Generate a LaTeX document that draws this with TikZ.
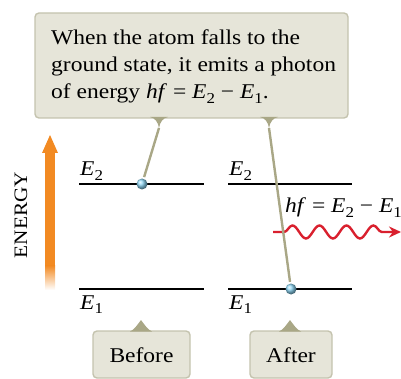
\documentclass[tikz,border=0pt]{standalone}
\usepackage{fontspec}
\setmainfont[FakeStretch=1.12]{Liberation Serif}
\usetikzlibrary{arrows.meta,decorations.pathmorphing,shadings}
\definecolor{boxfill}{HTML}{E6E5D9}
\definecolor{boxedge}{HTML}{C4C3AE}
\definecolor{olive}{HTML}{A9A786}
\definecolor{energyc}{HTML}{F28A22}
\definecolor{photonc}{HTML}{D9202E}
\definecolor{ballc}{HTML}{8ED6F4}
\newcommand\sbs[1]{\raisebox{-0.22em}{\scalebox{0.72}{#1}}}
\begin{document}
\begin{tikzpicture}[x=1pt,y=-1pt,
  txt/.style={inner sep=0pt,font=\fontsize{21}{27}\selectfont},
  callout/.style={fill=boxfill,draw=boxedge,line width=1.4pt,rounded corners=4pt},
  pointer/.style={fill=olive},
  lead/.style={draw=olive,line width=2.4pt,shorten >=1.5pt},
  level/.style={line width=1.3pt},
  atom/.style={circle,inner sep=0pt,minimum size=11pt,shading=ball,ball color=ballc}]
\useasboundingbox (0,0) rectangle (401,379);

% top callout
\draw[callout] (35,13) rectangle (348,118);
\node[txt,anchor=base west] (l1) at (51,45) {When the atom falls to the};
\node[txt,anchor=base west] (l2) at (51,72) {ground state, it emits a photon};
\node[txt,anchor=base west] (l3) at (51,99) {of energy \textit{hf} = \textit{E}\sbs{2} − \textit{E}\sbs{1}.};
\coordinate (t1) at (159,128);
\coordinate (t2) at (269,128);
\fill[pointer] (150,117) .. controls (155,118) and (158,122) .. (t1) .. controls (160,122) and (163,118) .. (168,117) -- cycle;
\fill[pointer] (260,117) .. controls (265,118) and (268,122) .. (t2) .. controls (270,122) and (273,118) .. (278,117) -- cycle;

% energy arrow
\fill[energyc] (45,266) rectangle (55,152);
\shade[top color=energyc,bottom color=white] (45,290) rectangle (55,265.5);
\fill[energyc] (42,153) -- (50,135) -- (58,153) -- cycle;
\node[inner sep=0pt,rotate=90,font=\fontsize{19}{22}\selectfont] (en) at (21,215) {ENERGY};

% levels
\draw[level] (79,184) -- (204,184);
\draw[level] (228,184) -- (352,184);
\draw[level] (79,289) -- (204,289);
\draw[level] (228,289) -- (352,289);
\node[txt,anchor=base west] (e2a) at (80,176) {\textit{E}\sbs{2}};
\node[txt,anchor=base west] (e2b) at (229,176) {\textit{E}\sbs{2}};
\node[txt,anchor=base west] (e1a) at (80,309) {\textit{E}\sbs{1}};
\node[txt,anchor=base west] (e1b) at (229,309) {\textit{E}\sbs{1}};

% photon
\coordinate (w0) at (273,232);
\coordinate (w1) at (401,232);
\draw[photonc,line width=2.4pt,-{Stealth[length=12pt,width=11pt]},decorate,
  decoration={snake,segment length=27pt,amplitude=6.5pt,pre length=11pt,post length=14pt}] (w0) -- (w1);
\node[txt,anchor=base west] (hf) at (285,213) {\textit{hf} = \textit{E}\sbs{2} − \textit{E}\sbs{1}};

% atoms and leads
\node[atom] (b1) at (142,184) {};
\node[atom] (b2) at (291,289) {};
\draw[lead] (t1) -- (b1);
\draw[lead] (t2) -- (b2);

% bottom callouts
\draw[callout] (93,331) rectangle (190,378);
\draw[callout] (250,331) rectangle (332,378);
\coordinate (p1) at (141,320);
\coordinate (p2) at (290,320);
\fill[pointer] (130,331.5) .. controls (134,330) and (138,324) .. (p1) .. controls (144,324) and (148,330) .. (152,331.5) -- cycle;
\fill[pointer] (279,331.5) .. controls (283,330) and (287,324) .. (p2) .. controls (293,324) and (297,330) .. (301,331.5) -- cycle;
\node[txt,anchor=base] (before) at (141.5,362) {Before};
\node[txt,anchor=base] (after) at (291,362) {After};
\end{tikzpicture}
\end{document}
